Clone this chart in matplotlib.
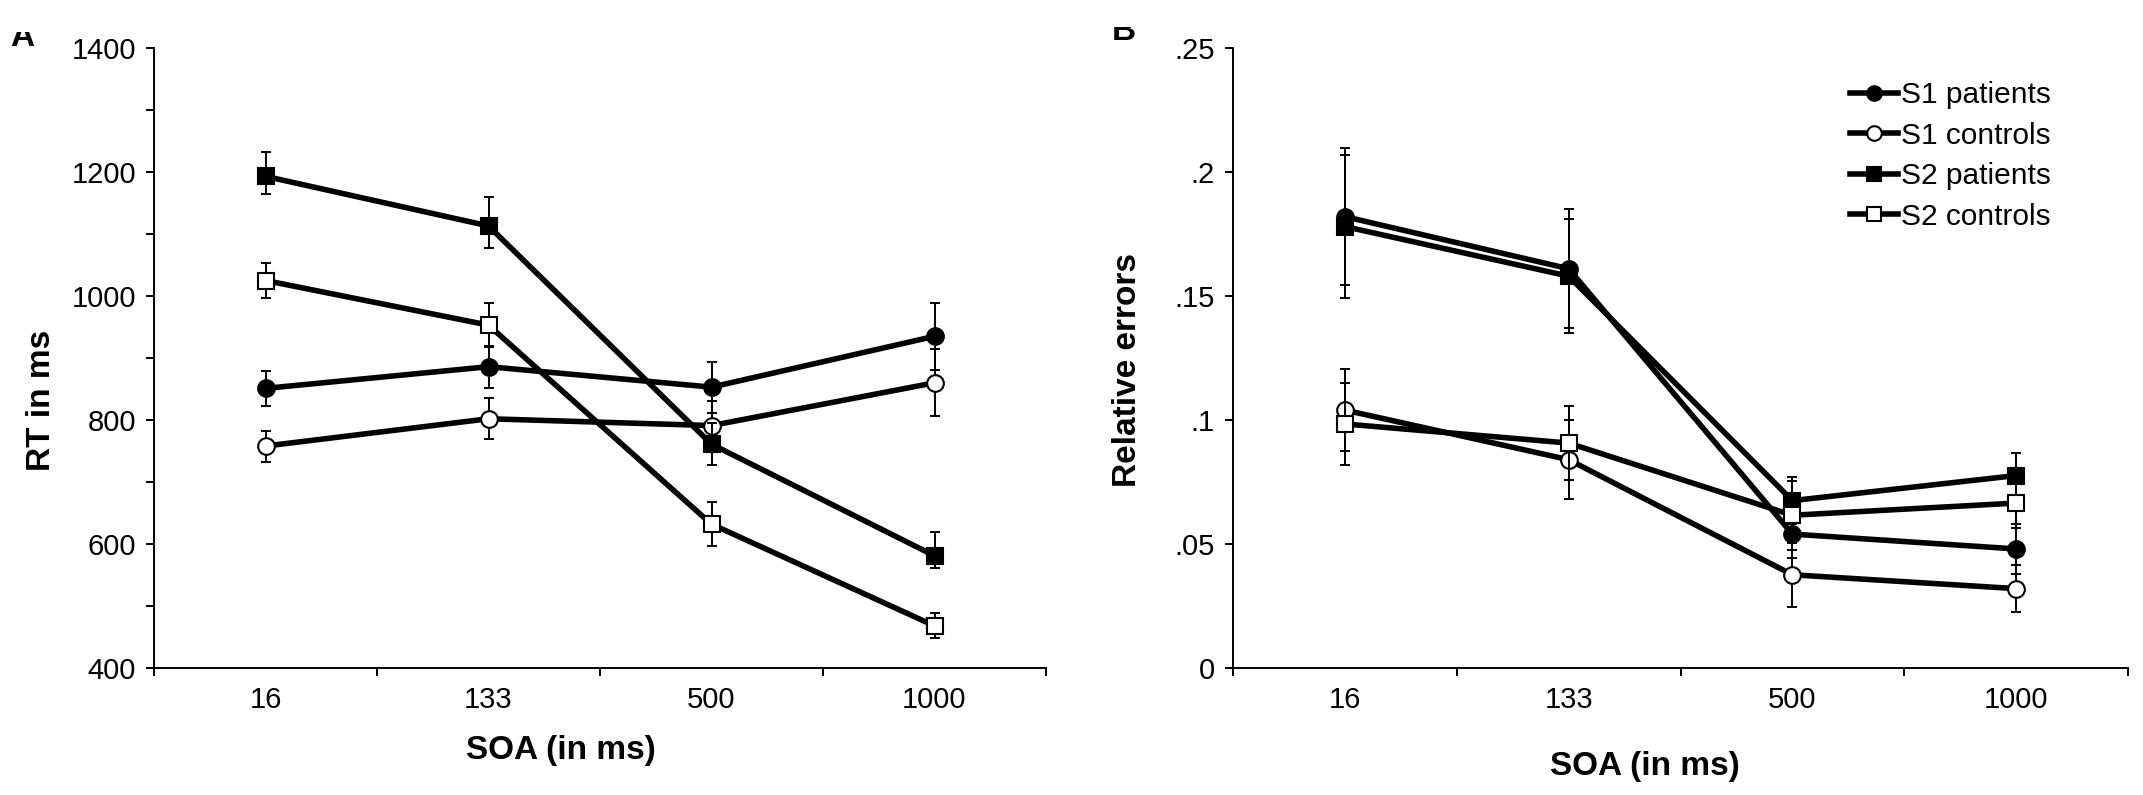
import matplotlib
matplotlib.use("Agg")
import matplotlib.pyplot as plt
from matplotlib.patches import Rectangle
from matplotlib.lines import Line2D

plt.rcParams['font.family'] = ['Liberation Sans', 'DejaVu Sans']

# ---- data -------------------------------------------------------------------
soa_labels = ['16', '133', '500', '1000']
series_names = ['S1 patients', 'S1 controls', 'S2 patients', 'S2 controls']

# Panel A: reaction times (ms)
rt_s1_pat = [851, 886, 853, 935]
rt_s1_con = [758, 802, 791, 860]
rt_s2_pat = [1193, 1113, 761, 581]
rt_s2_con = [1025, 953, 632, 468]
rt_err_lo = [[28, 34, 41, 54], [25, 33, 40, 54], [28, 35, 34, 20], [28, 35, 35, 20]]
rt_err_hi = [[28, 34, 41, 54], [25, 33, 40, 54], [40, 47, 34, 38], [28, 35, 35, 20]]

# Panel B: relative errors
er_s1_pat = [0.182, 0.161, 0.054, 0.048]
er_s1_con = [0.104, 0.084, 0.0376, 0.032]
er_s2_pat = [0.178, 0.158, 0.0675, 0.0776]
er_s2_con = [0.0984, 0.0907, 0.0616, 0.0665]
er_err = [[0.0275, 0.024, 0.0097, 0.010], [0.0166, 0.016, 0.0129, 0.0094],
          [0.029, 0.023, 0.0094, 0.009], [0.0167, 0.0148, 0.014, 0.010]]

markers = ['o', 'o', 's', 's']
faces = ['black', 'white', 'black', 'white']

W, H = 2143, 795
fig = plt.figure(figsize=(W / 100, H / 100), dpi=100)

def px(x0, y0, x1, y1):
    return [x0 / W, 1 - y1 / H, (x1 - x0) / W, (y1 - y0) / H]

ax1 = fig.add_axes(px(154, 48, 1046, 668))
ax2 = fig.add_axes(px(1233, 48, 2128, 668))

xpos = [i + 0.5 for i in range(len(soa_labels))]


def draw_panel(ax, values, err_lo, err_hi):
    for k, vals in enumerate(values):
        ax.errorbar(xpos, vals, yerr=[err_lo[k], err_hi[k]], fmt='none', ecolor='black',
                    elinewidth=1.4, capsize=3.3, capthick=1.4, zorder=2 + k)
        ax.plot(xpos, vals, color='black', lw=4.0, marker=markers[k], markersize=12,
                markerfacecolor=faces[k], markeredgecolor='black', markeredgewidth=1.5,
                zorder=2.5 + k, label=series_names[k])
    ax.set_xlim(0, 4)
    ax.set_xticks(range(5))
    ax.set_xticklabels([])
    ax.set_xticks(xpos, minor=True)
    ax.set_xticklabels(soa_labels, minor=True)
    ax.tick_params(axis='x', which='major', direction='out', length=6, width=1.4)
    ax.tick_params(axis='x', which='minor', length=0, pad=13, labelsize=21)
    ax.tick_params(axis='y', which='both', direction='out', width=1.4, pad=7, labelsize=21,
                   length=6)
    for s in ['top', 'right']:
        ax.spines[s].set_visible(False)
    for s in ['left', 'bottom']:
        ax.spines[s].set_linewidth(1.4)


draw_panel(ax1, [rt_s1_pat, rt_s1_con, rt_s2_pat, rt_s2_con], rt_err_lo, rt_err_hi)
ax1.set_ylim(400, 1400)
ax1.set_yticks(range(400, 1401, 200))
ax1.set_yticks(range(500, 1400, 200), minor=True)

draw_panel(ax2, [er_s1_pat, er_s1_con, er_s2_pat, er_s2_con], er_err, er_err)
ax2.set_ylim(0, 0.25)
ax2.set_yticks([0, 0.05, 0.1, 0.15, 0.2, 0.25])
ax2.set_yticklabels(['0', '.05', '.1', '.15', '.2', '.25'])

# axis titles
fig.text(41 / W, 1 - 400 / H, 'RT in ms', rotation=90, ha='center', va='center',
         fontsize=24, fontweight='bold')
fig.text(1127 / W, 1 - 370 / H, 'Relative errors', rotation=90, ha='center', va='center',
         fontsize=24, fontweight='bold')
fig.text(561 / W, 1 - 751 / H, 'SOA (in ms)', ha='center', va='center',
         fontsize=24, fontweight='bold')
fig.text(1645 / W, 1 - 766 / H, 'SOA (in ms)', ha='center', va='center',
         fontsize=24, fontweight='bold')

# legend
leg_handles = [Line2D([0], [0], color='black', lw=4.0, marker=markers[k], markersize=10.5,
                      markerfacecolor=faces[k], markeredgecolor='black', markeredgewidth=1.5)
               for k in range(4)]
fig.legend(leg_handles, series_names, loc='upper left', bbox_to_anchor=(1850 / W, 1 - 81 / H),
           frameon=False, fontsize=21.5, borderpad=0, labelspacing=0.42, handlelength=1.6,
           handletextpad=0.12, borderaxespad=0)

# panel letters, cut off at the top like the source figure
fig.text(10 / W, 1 - 46 / H, 'A', ha='left', va='baseline', fontsize=24, fontweight='bold')
fig.text(1112 / W, 1 - 40 / H, 'B', ha='left', va='baseline', fontsize=24, fontweight='bold')
fig.add_artist(Rectangle((0, 1 - 32 / H), 70 / W, 32 / H, transform=fig.transFigure,
                         facecolor='white', edgecolor='none', zorder=10))
fig.add_artist(Rectangle((1100 / W, 1 - 27 / H), 60 / W, 27 / H, transform=fig.transFigure,
                         facecolor='white', edgecolor='none', zorder=10))

fig.savefig('out.png', dpi=100, facecolor='white')
